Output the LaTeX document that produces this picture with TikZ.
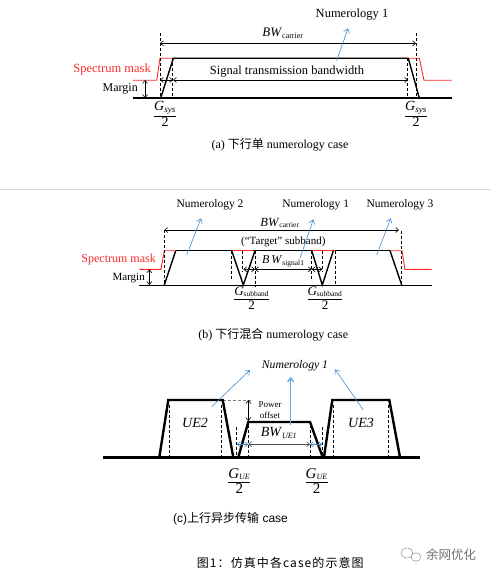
\documentclass[tikz,border=0pt]{standalone}
\usepackage{fontspec}
\usepackage{amsmath}
\setmainfont{Liberation Serif}
\newfontfamily\cjk{Noto Sans CJK SC}
\newfontfamily\cjkspaced[LetterSpace=9]{Noto Sans CJK SC}
\newfontfamily\arialf{Liberation Sans}
\usetikzlibrary{arrows.meta}
\definecolor{mblue}{RGB}{70,140,205}
\definecolor{lblue}{RGB}{100,170,230}
\definecolor{mred}{RGB}{255,40,40}
\tikzset{
  base/.style={line width=2.4pt},
  edgeline/.style={line width=1.4pt},
  thinline/.style={line width=0.8pt},
  dashline/.style={line width=0.6pt, dash pattern=on 3pt off 2pt},
  maskline/.style={mred, line width=0.9pt},
  dimarrow/.style={line width=0.6pt, {Straight Barb[length=3pt,width=5pt]}-{Straight Barb[length=3pt,width=5pt]}},
  bluearrow/.style={mblue, line width=0.6pt, -{Straight Barb[length=4pt,width=6pt]}},
  lbl/.style={inner sep=0pt, font=\fontsize{12}{13}\selectfont},
  captext/.style={inner sep=0pt, font=\fontsize{12}{13}\selectfont},
}
\begin{document}
\begin{tikzpicture}[x=1pt,y=-1pt]
\useasboundingbox (0,0) rectangle (491,577);
\fill[white] (0,0) rectangle (491,577);

%================ (a) =================
\draw[maskline] (132.7,80.3) -- (156.7,80.3) -- (160,58.3) -- (419.3,58.3) -- (424,80.3) -- (451.7,80.3);
\draw[edgeline] (160.7,98) -- (173.3,58.3) -- (408.3,58.3) -- (419.3,98);
\draw[dashline] (160,33) -- (160,98);
\draw[dashline] (172.7,58.3) -- (172.7,98);
\draw[dashline] (416,33) -- (416,98);
\draw[dashline] (407.7,58.3) -- (407.7,98);
\draw[base] (132.7,98.3) -- (451.7,98.3);
\coordinate (a1) at (160,43.3); \coordinate (a2) at (416,43.3);
\draw[dimarrow] (a1) -- (a2);
\node[lbl] (abw) at (283,33) {\fontsize{13}{14}\selectfont\textit{BW}\textsubscript{\fontsize{8}{9}\selectfont carrier}};
\coordinate (a3) at (173,80); \coordinate (a4) at (408,80); \coordinate (a5) at (160,80);
\draw[dimarrow] (a3) -- (a4);
\draw[dimarrow] (a5) -- (a3);
\node[lbl, font=\fontsize{12.5}{13}\selectfont] (asig) at (287,72) {Signal transmission bandwidth};
\coordinate (am1) at (145,80); \coordinate (am2) at (145,98);
\draw[dimarrow] (am1) -- (am2);
\node[lbl, anchor=east] (amarg) at (138,89) {Margin};
\node[lbl, anchor=east, text=mred, font=\fontsize{12.5}{13}\selectfont] (amask) at (151,69) {Spectrum mask};
\node[lbl, font=\fontsize{12.5}{13}\selectfont] (anum) at (352,15) {Numerology 1};
\coordinate (ab1) at (336.7,60.7); \coordinate (ab2) at (348,28.3);
\draw[bluearrow] (ab1) -- (ab2);
\node[inner sep=0pt] (afr1) at (165,114) {$\dfrac{\text{\fontsize{14}{15}\selectfont\textit{G}}_{\text{\fontsize{9}{10}\selectfont\textit{sys}}}}{\text{\fontsize{14}{15}\selectfont 2}}$};
\node[inner sep=0pt] (afr2) at (416,114) {$\dfrac{\text{\fontsize{14}{15}\selectfont\textit{G}}_{\text{\fontsize{9}{10}\selectfont\textit{sys}}}}{\text{\fontsize{14}{15}\selectfont 2}}$};
\node[captext] (acap) at (280,145) {(a) {\cjk 下行单} numerology case};

% separator
\draw[black!15, line width=0.8pt] (0,189) -- (491,189);

%================ (b) =================
\draw[maskline] (139.3,269.3) -- (161,269.3) -- (164.3,250.7) -- (175.7,250.7);
\draw[maskline] (231.7,250.7) -- (253.3,250.7);
\draw[maskline] (311.7,250.7) -- (335,250.7);
\draw[maskline] (390,250.7) -- (402,250.7) -- (405,269.3) -- (431.7,269.3);
\draw[thinline] (175.7,250.7) -- (231.7,250.7);
\draw[thinline] (253.3,250.7) -- (311.7,250.7);
\draw[thinline] (335,250.7) -- (390,250.7);
\draw[thinline] (139.3,285) -- (431.7,285);
\draw[edgeline] (164.3,285) -- (175.7,250.7);
\draw[edgeline] (231.7,250.7) -- (243.3,285) -- (255,250.7);
\draw[edgeline] (311.7,250.7) -- (322.3,285) -- (333.3,250.7);
\draw[edgeline] (390,250.7) -- (401.7,285);
\draw[dashline] (164.3,230) -- (164.3,285);
\draw[dashline] (401.7,231) -- (401.7,285);
\draw[dashline] (231.7,250.7) -- (231.7,279);
\draw[dashline] (242,250.7) -- (242,272);
\draw[dashline] (255,250.7) -- (255,287);
\draw[dashline] (311.7,250.7) -- (311.7,279);
\draw[dashline] (322,250.7) -- (322,272);
\draw[dashline] (335,250.7) -- (335,285);
\coordinate (b1) at (164.3,230); \coordinate (b2) at (399,230);
\draw[dimarrow] (b1) -- (b2);
\node[lbl] (bbw) at (280,223) {\fontsize{12.5}{13}\selectfont\textit{BW}\textsubscript{\fontsize{7.5}{8}\selectfont carrier}};
\node[lbl, font=\fontsize{11}{12}\selectfont] (btarget) at (283.3,242.3) {(“Target” subband)};
\coordinate (b3) at (255,269.3); \coordinate (b4) at (311.7,269.3);
\coordinate (b5) at (243.3,269.3); \coordinate (b6) at (322.3,269.3);
\draw[dimarrow] (b3) -- (b4);
\draw[dimarrow] (b5) -- (b3);
\draw[dimarrow] (b4) -- (b6);
\node[lbl] (bsig) at (283.3,261.5) {\fontsize{12}{13}\selectfont\textit{B\,W}\textsubscript{\fontsize{7.5}{8}\selectfont signal1}};
\coordinate (bm1) at (149.3,269.3); \coordinate (bm2) at (149.3,285);
\draw[dimarrow] (bm1) -- (bm2);
\node[lbl, anchor=east, font=\fontsize{11}{12}\selectfont] (bmarg) at (145,278.3) {Margin};
\node[lbl, anchor=east, text=mred] (bmask) at (156,260) {Spectrum mask};
\node[lbl, font=\fontsize{11.5}{12}\selectfont] (bn2) at (210,205) {Numerology 2};
\node[lbl, font=\fontsize{11.5}{12}\selectfont] (bn1) at (315.7,205) {Numerology 1};
\node[lbl, font=\fontsize{11.5}{12}\selectfont] (bn3) at (400,205) {Numerology 3};
\coordinate (bb1) at (186.7,255); \coordinate (bb2) at (201,218.3);
\coordinate (bb3) at (300,258.3); \coordinate (bb4) at (313.3,219.3);
\coordinate (bb5) at (376.7,255); \coordinate (bb6) at (390.7,218.3);
\draw[bluearrow] (bb1) -- (bb2);
\draw[bluearrow] (bb3) -- (bb4);
\draw[bluearrow] (bb5) -- (bb6);
\node[inner sep=0pt] (bfr1) at (251.7,298) {$\dfrac{\text{\fontsize{13}{14}\selectfont\textit{G}}_{\text{\fontsize{7.5}{8}\selectfont subband}}}{\text{\fontsize{13}{14}\selectfont 2}}$};
\node[inner sep=0pt] (bfr2) at (325,298) {$\dfrac{\text{\fontsize{13}{14}\selectfont\textit{G}}_{\text{\fontsize{7.5}{8}\selectfont subband}}}{\text{\fontsize{13}{14}\selectfont 2}}$};
\node[captext] (bcap) at (273.3,335) {(b) {\cjk 下行混合} numerology case};

%================ (c) =================
\draw[dashline] (169.3,405) -- (169.3,457);
\draw[dashline] (221.7,405) -- (221.7,457);
\draw[dashline] (236.7,427) -- (236.7,457);
\draw[dashline] (248.3,425) -- (248.3,457);
\draw[dashline] (310,425) -- (310,457);
\draw[dashline] (322.3,427) -- (322.3,457);
\draw[dashline] (333.3,405) -- (333.3,457);
\draw[dashline] (388.3,405) -- (388.3,457);
\draw[dashline, black!50] (222.7,400) -- (252,400);
\draw[base] (159.3,457.3) -- (168.3,400) -- (222.7,400) -- (233.3,457.3);
\draw[base] (238.3,457.3) -- (248.3,422) -- (310,422) -- (322.7,457.3);
\draw[base] (324,457.3) -- (332.3,400) -- (389.3,400) -- (400,457.3);
\draw[line width=2.8pt] (103.3,457.3) -- (420,457.3);
\coordinate (cp1) at (248.3,400); \coordinate (cp2) at (248.3,421);
\draw[dimarrow] (cp1) -- (cp2);
\node[inner sep=0pt, align=center, font=\fontsize{9}{11}\selectfont] (cpow) at (270,410) {Power\\offset};
\coordinate (c1) at (248.3,444.3); \coordinate (c2) at (310,444.3);
\coordinate (c3) at (236.7,444.3); \coordinate (c4) at (322.3,444.3);
\draw[dimarrow, black!70] (c1) -- (c2);
\draw[dimarrow, mblue] (c3) -- (c1);
\draw[dimarrow, mblue] (c2) -- (c4);
\node[lbl] (cbw) at (279,433.3) {\fontsize{14}{15}\selectfont\textit{BW}\textsubscript{\fontsize{8}{9}\selectfont\textit{UE1}}};
\node[lbl, font=\fontsize{14}{15}\selectfont\itshape] (cue2) at (195,422.7) {UE2};
\node[lbl, font=\fontsize{14}{15}\selectfont\itshape] (cue3) at (361,422.7) {UE3};
\node[lbl, font=\fontsize{11.7}{13}\selectfont\itshape] (cnum) at (295,366) {Numerology 1};
\coordinate (cb1) at (211.7,406.7); \coordinate (cb2) at (250,370);
\coordinate (cb3) at (290.7,425); \coordinate (cb4) at (290.7,376.7);
\coordinate (cb5) at (363.3,410); \coordinate (cb6) at (335,369.3);
\draw[bluearrow] (cb1) -- (cb2);
\draw[bluearrow, lblue, line width=1.4pt] (cb3) -- (cb4);
\draw[bluearrow] (cb5) -- (cb6);
\node[inner sep=0pt] (cfr1) at (239.3,481) {$\dfrac{\text{\fontsize{15}{16}\selectfont\textit{G}}_{\text{\fontsize{8}{9}\selectfont\textit{UE}}}}{\text{\fontsize{15}{16}\selectfont 2}}$};
\node[inner sep=0pt] (cfr2) at (316.7,481) {$\dfrac{\text{\fontsize{15}{16}\selectfont\textit{G}}_{\text{\fontsize{8}{9}\selectfont\textit{UE}}}}{\text{\fontsize{15}{16}\selectfont 2}}$};
\node[captext, anchor=west, font=\arialf\fontsize{12}{13}\selectfont] (ccap) at (173,518.3) {(c){\cjk 上行异步传输} case};

%================ figure caption =================
\node[captext, anchor=west, font=\cjkspaced\fontsize{12}{13}\selectfont] (fcap) at (196.7,563.3) {图1：仿真中各case的示意图};
% watermark
\draw[black!40, line width=0.6pt] (407,553) ellipse (6pt and 5pt);
\draw[black!40, line width=0.6pt] (416,557) ellipse (5pt and 4.2pt);
\node[captext, anchor=west, text=black!55, font=\cjk\fontsize{12.5}{13}\selectfont] (wm) at (426,555) {余网优化};
\end{tikzpicture}
\end{document}
